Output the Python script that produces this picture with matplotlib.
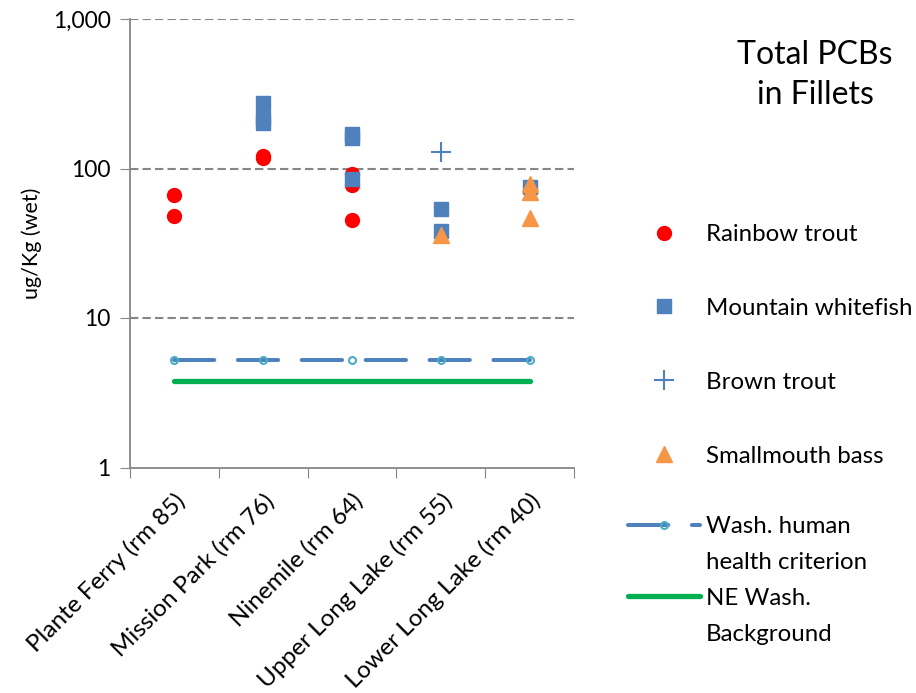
import numpy as np
import matplotlib
matplotlib.use("Agg")
import matplotlib.pyplot as plt
from matplotlib.lines import Line2D
from matplotlib.ticker import FixedLocator, FuncFormatter

plt.rcParams["font.family"] = ["Lato", "DejaVu Sans"]
plt.rcParams["lines.scale_dashes"] = False

# ─── Data ───
sites = ["Plante Ferry (rm 85)", "Mission Park (rm 76)", "Ninemile (rm 64)",
         "Upper Long Lake (rm 55)", "Lower Long Lake (rm 40)"]

rainbow_site = [0, 0, 1, 1, 2, 2, 2]
rainbow_val = [67, 48, 118, 121, 92, 78, 45]

whitefish_site = [1, 1, 1, 2, 2, 2, 3, 3, 4]
whitefish_val = [276, 216, 200, 170, 159, 85, 54, 38, 75]

brown_site = [3]
brown_val = [128]

bass_site = [3, 4, 4, 4]
bass_val = [36, 79, 70, 47]

criterion_val = [5.25] * 5
background_val = [3.78] * 5

# ─── Plot ───
fig = plt.figure(figsize=(9.16, 6.93), dpi=100)
ax = fig.add_axes([130 / 916, 1 - 467.5 / 693, 444 / 916, 448.5 / 693])

x = np.arange(len(sites))
bg, = ax.plot(x, background_val, color="#00B050", lw=3.8, solid_capstyle="round",
              zorder=2)
crit, = ax.plot(x, criterion_val, color="#4F81BD", lw=2.9, dash_capstyle="round",
                marker="o", ms=5, mfc="none", mec="#4BACC6", mew=1.5, zorder=3)
crit.set_dashes((29, 17))

ax.plot(rainbow_site, rainbow_val, "o", color="#FF0000", ms=10, ls="none",
        label="Rainbow trout", zorder=4)
ax.plot(whitefish_site, whitefish_val, "s", color="#4F81BD", ms=10, ls="none",
        label="Mountain whitefish", zorder=4)
ax.plot(brown_site, brown_val, "+", color="#4F81BD", ms=15, mew=1.5, ls="none",
        label="Brown trout", zorder=4)
ax.plot(bass_site, bass_val, "^", color="#F79646", ms=12, ls="none",
        label="Smallmouth bass", zorder=5)

ax.set_yscale("log")
ax.set_ylim(1, 1000)
ax.set_xlim(-0.5, len(sites) - 0.5)
ax.yaxis.set_major_locator(FixedLocator([1, 10, 100, 1000]))
ax.yaxis.set_minor_locator(FixedLocator([]))
ax.yaxis.set_major_formatter(FuncFormatter(lambda v, p: f"{v:,.0f}"))
ax.tick_params(axis="y", length=7, color="#868686", labelsize=16.5, pad=7)
for v in [10, 100, 1000]:
    ax.axhline(v, color="#868686", lw=1.5, ls=(0, (6, 3)), zorder=1)

ax.set_xticks(np.arange(-0.5, len(sites)))
ax.set_xticklabels([])
ax.set_xticks(x, minor=True)
ax.set_xticklabels(sites, minor=True, rotation=45, ha="right",
                   rotation_mode="anchor", fontsize=17.5)
ax.tick_params(axis="x", which="major", length=7, color="#868686")
ax.tick_params(axis="x", which="minor", length=0, pad=16)

for s in ["top", "right"]:
    ax.spines[s].set_visible(False)
for s in ["left", "bottom"]:
    ax.spines[s].set_color("#868686")
    ax.spines[s].set_linewidth(1.3)

ax.set_ylabel("ug/Kg (wet)", fontsize=15.5, labelpad=8)

# ─── Legends ───
h, l = ax.get_legend_handles_labels()
leg1 = fig.legend(h, l, loc="upper left", bbox_to_anchor=(628 / 916, 1 - 224 / 693),
                  frameon=False, fontsize=17.3, handlelength=72 / 24, handletextpad=0.25,
                  borderpad=0, borderaxespad=0, labelspacing=2.2, numpoints=1)

blank = Line2D([], [], color="none")
leg2 = fig.legend([crit, blank, bg, blank],
                  ["Wash. human", "health criterion", "NE Wash.", "Background"],
                  loc="upper left", bbox_to_anchor=(628 / 916, 1 - 516 / 693),
                  frameon=False, fontsize=17.3, handlelength=72 / 24, handletextpad=0.25,
                  borderpad=0, borderaxespad=0, labelspacing=0.62, numpoints=1)

fig.text(815 / 916, 1 - 75 / 693, "Total PCBs\nin Fillets", ha="center", va="center",
         fontsize=23, linespacing=1.4)

fig.savefig("out.png", dpi=100)
